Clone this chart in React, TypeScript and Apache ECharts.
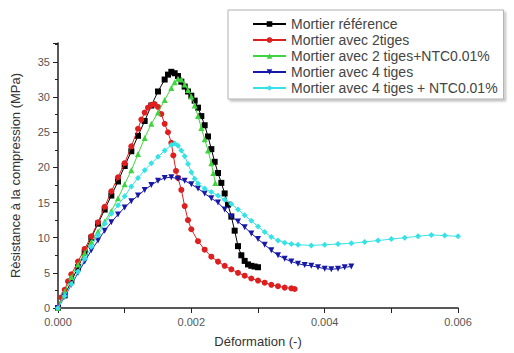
import React, { useEffect, useRef } from "react";
import * as echarts from "echarts";

const seriesNames = [
  "Mortier référence",
  "Mortier avec 2tiges",
  "Mortier avec 2 tiges+NTC0.01%",
  "Mortier avec 4 tiges",
  "Mortier avec 4 tiges + NTC0.01%",
];

const refStrain = [0, 0.0001, 0.0002, 0.0003, 0.0004, 0.0005, 0.0006, 0.0007, 0.0008, 0.0009, 0.001, 0.0011, 0.0012, 0.0013, 0.0014, 0.0015, 0.0016, 0.00165, 0.0017, 0.00175, 0.0018, 0.00185, 0.0019, 0.00195, 0.002, 0.00205, 0.0021, 0.00215, 0.0022, 0.00225, 0.0023, 0.00235, 0.0024, 0.00245, 0.0025, 0.00255, 0.0026, 0.00265, 0.0027, 0.00275, 0.0028, 0.00285, 0.0029, 0.00295, 0.003];
const refStress = [0, 1.8, 3.8, 5.8, 7.9, 10.0, 12.0, 14.0, 16.0, 18.0, 20.2, 22.3, 24.5, 26.6, 28.8, 30.8, 32.5, 33.2, 33.6, 33.4, 33.0, 32.2, 31.5, 30.8, 30.2, 29.5, 28.5, 27.3, 26.0, 24.4, 22.6, 20.8, 19.2, 17.8, 16.3, 14.7, 13.0, 11.0, 8.8, 7.5, 6.7, 6.2, 6.0, 5.9, 5.8];

const t2Strain = [0, 0.00005, 0.0001, 0.00015, 0.0002, 0.0003, 0.0004, 0.0005, 0.0006, 0.0007, 0.0008, 0.0009, 0.001, 0.0011, 0.0012, 0.00125, 0.0013, 0.00135, 0.0014, 0.00145, 0.0015, 0.00155, 0.0016, 0.00165, 0.0017, 0.00173, 0.00177, 0.0018, 0.00185, 0.0019, 0.00195, 0.002, 0.0021, 0.0022, 0.0023, 0.0024, 0.0025, 0.0026, 0.0027, 0.0028, 0.0029, 0.003, 0.0031, 0.0032, 0.0033, 0.0034, 0.0035, 0.00355];
const t2Stress = [0, 1.5, 2.6, 3.8, 4.8, 6.6, 8.4, 10.2, 12.2, 14.4, 16.6, 18.6, 20.6, 23.0, 25.5, 26.8, 27.8, 28.5, 28.9, 29.0, 28.6, 27.6, 26.2, 25.0, 23.5, 21.7, 19.5, 18.5, 16.8, 14.5, 12.5, 11.2, 9.5, 8.3, 7.3, 6.6, 6.0, 5.5, 5.0, 4.6, 4.2, 3.9, 3.6, 3.3, 3.1, 2.9, 2.8, 2.7];

const t2nStrain = [0, 0.0001, 0.0002, 0.0003, 0.0004, 0.0005, 0.0006, 0.0007, 0.0008, 0.0009, 0.001, 0.0011, 0.0012, 0.0013, 0.0014, 0.0015, 0.0016, 0.0017, 0.00175, 0.0018, 0.00185, 0.0019, 0.00195, 0.002, 0.00205, 0.0021, 0.00215, 0.0022, 0.00225, 0.0023, 0.00233, 0.00236];
const t2nStress = [0, 2.3, 4.4, 6.2, 7.8, 9.4, 10.9, 12.3, 13.8, 15.6, 17.6, 19.6, 21.9, 24.2, 26.2, 27.8, 29.6, 31.3, 32.1, 32.6, 32.5, 31.8, 31.0, 30.1, 28.8, 27.3, 25.6, 24.0, 22.4, 20.6, 19.2, 17.8];

const t4Strain = [0, 0.0001, 0.0002, 0.0003, 0.0004, 0.0005, 0.0006, 0.0007, 0.0008, 0.0009, 0.001, 0.0011, 0.0012, 0.0013, 0.0014, 0.0015, 0.0016, 0.0017, 0.0018, 0.0019, 0.002, 0.0021, 0.0022, 0.0023, 0.0024, 0.0025, 0.0026, 0.0027, 0.0028, 0.0029, 0.003, 0.0031, 0.0032, 0.0033, 0.0034, 0.0035, 0.0036, 0.0037, 0.0038, 0.0039, 0.004, 0.0041, 0.0042, 0.0043, 0.0044];
const t4Stress = [0, 1.6, 3.3, 5.0, 6.6, 8.2, 9.6, 11.0, 12.2, 13.3, 14.3, 15.2, 16.0, 16.8, 17.5, 18.1, 18.5, 18.6, 18.4, 18.1, 17.6, 17.0, 16.3, 15.6, 15.0, 14.0, 13.0, 12.3, 11.5, 10.6, 9.8, 9.0, 8.2, 7.5, 7.0, 6.6, 6.3, 6.1, 6.0, 5.8, 5.6, 5.5, 5.6, 5.8, 5.9];

const t4nStrain = [0, 0.0001, 0.0002, 0.0003, 0.0004, 0.0005, 0.0006, 0.0007, 0.0008, 0.0009, 0.001, 0.0011, 0.0012, 0.0013, 0.0014, 0.0015, 0.0016, 0.0017, 0.00175, 0.0018, 0.00185, 0.0019, 0.00195, 0.002, 0.00205, 0.0021, 0.0022, 0.0023, 0.0024, 0.0025, 0.0026, 0.0027, 0.0028, 0.0029, 0.003, 0.0031, 0.0032, 0.0033, 0.0034, 0.0035, 0.0036, 0.0038, 0.004, 0.0042, 0.0044, 0.0046, 0.0048, 0.005, 0.0052, 0.0054, 0.0056, 0.0058, 0.006];
const t4nStress = [0, 1.7, 3.4, 5.2, 7.0, 8.7, 10.4, 12.0, 13.4, 14.6, 15.9, 17.3, 18.5, 19.6, 20.6, 21.5, 22.4, 23.2, 23.4, 23.1, 22.4, 21.6, 20.5, 19.3, 18.4, 17.7, 17.0, 16.5, 16.0, 15.4, 14.8, 14.0, 13.2, 12.4, 11.6, 10.8, 10.1, 9.6, 9.3, 9.1, 9.0, 8.9, 9.0, 9.1, 9.2, 9.4, 9.6, 9.8, 10.0, 10.2, 10.4, 10.3, 10.2];

const xTickValues = [0, 0.002, 0.004, 0.006];
const yTickValues = [0, 5, 10, 15, 20, 25, 30, 35];

const colors = ["#000000", "#dd1f1f", "#3fd43f", "#1818a8", "#35e2e6"];
const symbols = ["rect", "circle", "triangle", "path://M0,0 L10,0 L5,9 Z", "diamond"];

function zip(xs: number[], ys: number[]) {
  return xs.map((x, i) => [x, ys[i]]);
}

export default function App() {
  const ref = useRef<HTMLDivElement>(null);
  useEffect(() => {
    if (!ref.current) return;
    const chart = echarts.init(ref.current, null, { renderer: "svg" });
    const datasets = [
      zip(refStrain, refStress),
      zip(t2Strain, t2Stress),
      zip(t2nStrain, t2nStress),
      zip(t4Strain, t4Stress),
      zip(t4nStrain, t4nStress),
    ];
    const font = "'Liberation Sans', Arial, sans-serif";
    chart.setOption({
      animation: false,
      backgroundColor: "#ffffff",
      textStyle: { fontFamily: font },
      grid: { left: 58, right: 56, top: 43, bottom: 41, containLabel: false },
      legend: {
        orient: "vertical",
        left: 228,
        top: 10,
        padding: [7, 6, 4, 24],
        itemGap: 2,
        itemWidth: 33,
        itemHeight: 7,
        borderColor: "#b0b0b0",
        borderWidth: 1,
        shadowColor: "rgba(0,0,0,0.25)",
        shadowBlur: 2,
        shadowOffsetX: 2,
        shadowOffsetY: 2,
        backgroundColor: "#ffffff",
        textStyle: { fontSize: 14, color: "#444", fontFamily: font },
        data: seriesNames,
      },
      xAxis: {
        type: "value",
        min: 0,
        max: 0.006,
        interval: 0.001,
        name: "Déformation (-)",
        nameLocation: "middle",
        nameGap: 27,
        nameTextStyle: { fontSize: 13, color: "#333", fontFamily: font },
        axisLine: { show: true, lineStyle: { color: "#222", width: 1.5 } },
        axisTick: { show: true, length: 5, inside: false, lineStyle: { color: "#222" } },
        axisLabel: {
          fontSize: 11,
          color: "#555",
          margin: 8,
          formatter: (v: number) => {
            const hit = xTickValues.find((t) => Math.abs(t - v) < 1e-9);
            return hit === undefined ? "" : hit.toFixed(3);
          },
        },
        splitLine: { show: false },
      },
      yAxis: {
        type: "value",
        min: 0,
        max: 37.7,
        interval: 5,
        name: "Rèsistance à la compression (MPa)",
        nameLocation: "middle",
        nameGap: 36,
        nameTextStyle: { fontSize: 13, color: "#333", fontFamily: font },
        axisLine: { show: true, lineStyle: { color: "#222", width: 1.5 } },
        axisTick: { show: true, length: 5, lineStyle: { color: "#222" } },
        minorTick: { show: true, splitNumber: 2, length: 3, lineStyle: { color: "#222" } },
        axisLabel: {
          fontSize: 11,
          color: "#555",
          margin: 8,
          showMaxLabel: false,
          formatter: (v: number) => (yTickValues.includes(v) ? String(v) : ""),
        },
        splitLine: { show: false },
      },
      series: datasets.map((d, i) => ({
        name: seriesNames[i],
        type: "line",
        data: d,
        symbol: symbols[i],
        symbolSize: 6,
        showSymbol: true,
        color: colors[i],
        itemStyle: { color: colors[i] },
        lineStyle: { color: colors[i], width: 1 },
        z: 2 + i,
      })),
    });
    return () => chart.dispose();
  }, []);
  return (
    <div
      ref={ref}
      style={{ position: "fixed", left: 0, top: 0, width: 514, height: 353 }}
    />
  );
}
